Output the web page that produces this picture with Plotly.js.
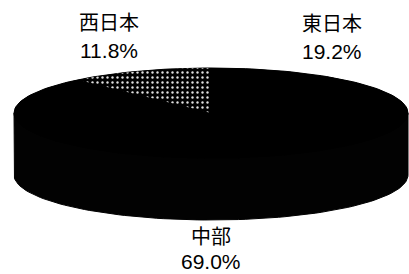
<!DOCTYPE html>
<html><head><meta charset="utf-8">
<script src="https://cdn.plot.ly/plotly-3.0.1.min.js"></script>
<style>html,body{margin:0;padding:0;background:#fff;}#chart{width:409px;height:274px;}</style>
</head><body><div id="chart"></div>
<script>
// Data
const categories = ['東日本', '中部', '西日本'];
const values = [19.2, 69.0, 11.8];
const percentLabels = ['19.2%', '69.0%', '11.8%'];

// Geometry (pixel space of the plot)
const cx = 211, cy = 113, rx = 197, ry = 45, depth = 62;
const topColors = ['#000000', '#000000', '#000000'];
const sideColor = '#020202';

function pt(theta, dy) {
  const t = theta * Math.PI / 180;
  return [cx + rx * Math.sin(t), cy - ry * Math.cos(t) + (dy || 0)];
}
function arc(a, b, dy) {
  const xs = [], ys = [];
  const n = Math.max(2, Math.ceil(Math.abs(b - a) / 2));
  for (let i = 0; i <= n; i++) {
    const p = pt(a + (b - a) * i / n, dy);
    xs.push(p[0]); ys.push(p[1]);
  }
  return [xs, ys];
}

const total = values.reduce((s, v) => s + v, 0);
const traces = [];
let start = 0;
const spans = values.map(v => { const a = start; start += v / total * 360; return [a, start]; });

// Solid silhouette: side wall (front half, overlapping the top) and the top ellipse
{
  const frontBot = arc(270, 90, depth);
  const sx = [cx - rx].concat(frontBot[0], [cx + rx, cx - rx]);
  const sy = [cy].concat(frontBot[1], [cy, cy]);
  traces.push({
    type: 'scatter', mode: 'lines', hoverinfo: 'skip', showlegend: false,
    x: sx, y: sy, fill: 'toself', fillcolor: sideColor, line: {width: 1, color: sideColor}
  });
  const top = arc(-90, 270, 0);
  traces.push({
    type: 'scatter', mode: 'lines', hoverinfo: 'skip', showlegend: false,
    x: top[0], y: top[1], fill: 'toself', fillcolor: '#000', line: {width: 1, color: '#000'}
  });
}

// Top faces of each slice
spans.forEach((s, i) => {
  const r = arc(s[0], s[1], 0);
  const tr = {
    type: 'scatter', mode: 'lines', hoverinfo: 'skip', showlegend: false, name: categories[i],
    x: [cx].concat(r[0], [cx]), y: [cy].concat(r[1], [cy]),
    fill: 'toself', fillcolor: topColors[i], line: {width: 0, color: '#000'}
  };
  if (categories[i] === '西日本') {
    tr.fillpattern = {shape: '.', fgcolor: '#e0e0e0', bgcolor: '#000000', size: 5, solidity: 0.18};
  }
  traces.push(tr);
});

const numFont = {family: 'Liberation Sans, Arial, sans-serif', size: 21, color: '#000'};
const cjkFont = {family: 'Noto Sans CJK JP, sans-serif', size: 20, color: '#000'};
const labelPos = {'東日本': [332, 22, 51], '中部': [211, 235, 261], '西日本': [109, 21, 50]};
const annotations = [];
categories.forEach((c, i) => {
  const p = labelPos[c];
  annotations.push({x: p[0], y: p[1], xref: 'x', yref: 'y', text: c, showarrow: false, font: cjkFont});
  annotations.push({x: p[0], y: p[2], xref: 'x', yref: 'y', text: percentLabels[i], showarrow: false, font: numFont});
});

const layout = {
  width: 409, height: 274,
  margin: {l: 0, r: 0, t: 0, b: 0},
  paper_bgcolor: '#fff', plot_bgcolor: '#fff',
  xaxis: {range: [0, 409], visible: false, fixedrange: true},
  yaxis: {range: [274, 0], visible: false, fixedrange: true},
  annotations: annotations,
  showlegend: false
};
Plotly.newPlot('chart', traces, layout, {displayModeBar: false, staticPlot: true});
</script></body></html>
